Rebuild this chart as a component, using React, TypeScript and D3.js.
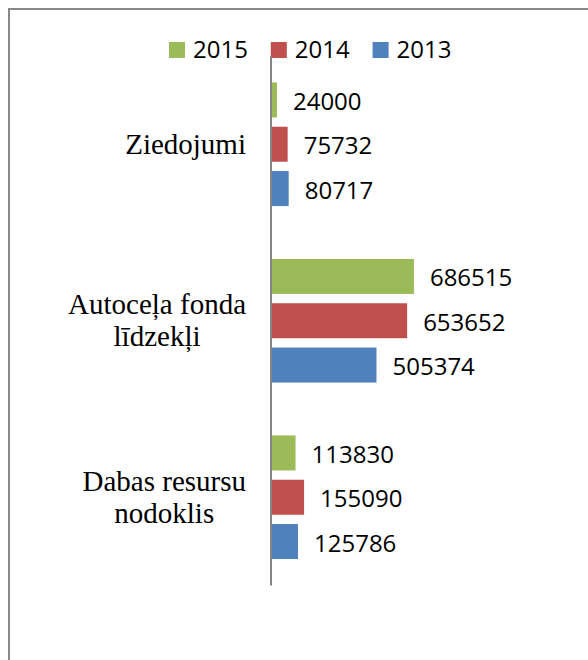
import React from "react";
import * as d3 from "d3";

const categories = ["Ziedojumi", "Autoceļa fonda\nlīdzekļi", "Dabas resursu\nnodoklis"];
const seriesNames = ["2015", "2014", "2013"];
const seriesColors = ["#9BBB59", "#C0504D", "#4F81BD"];
const values2015 = [24000, 686515, 113830];
const values2014 = [75732, 653652, 155090];
const values2013 = [80717, 505374, 125786];
const seriesValues = [values2015, values2014, values2013];

const W = 588;
const H = 660;
const numFont = "'Open Sans', sans-serif";
const numSize = 24;
const catFont = "'Liberation Serif', serif";
const catSize = 29;

function measure(text: string, font: string): number {
  const c = document.createElement("canvas");
  const ctx = c.getContext("2d");
  if (!ctx) return text.length * 12;
  ctx.font = font;
  return ctx.measureText(text).width;
}

export default function App() {
  const x = d3.scaleLinear().domain([0, 800000]).range([272, 437.4]);
  const y = d3.scaleBand<string>().domain(categories).range([56, 585.5]).padding(0);
  const inner = d3
    .scaleBand<string>()
    .domain(seriesNames)
    .range([0, y.bandwidth()])
    .paddingInner(0.21)
    .paddingOuter(0.597);

  const labelRight = 246;
  const lineH = 32;

  return (
    <svg
      width={W}
      height={H}
      style={{ position: "absolute", left: 0, top: 0, background: "#fff" }}
    >
      {/* frame */}
      <line x1={8} x2={W} y1={9} y2={9} stroke="#888" strokeWidth={2} />
      <line x1={9} x2={9} y1={8} y2={H} stroke="#888" strokeWidth={2} />

      {/* legend */}
      {seriesNames.map((s, i) => {
        const lx = 169 + i * 101.8;
        return (
          <g key={s}>
            <rect x={lx} y={42} width={16} height={16} fill={seriesColors[i]} />
            <text
              x={lx + 24}
              y={58}
              fontFamily={numFont}
              fontSize={numSize}
              fill="#000"
            >
              {s}
            </text>
          </g>
        );
      })}

      {/* bars */}
      {categories.map((c, ci) => (
        <g key={c}>
          {seriesNames.map((s, si) => {
            const v = seriesValues[si][ci];
            const by = (y(c) as number) + (inner(s) as number);
            const bh = inner.bandwidth();
            return (
              <g key={s}>
                <rect
                  x={x(0)}
                  y={by}
                  width={x(v) - x(0)}
                  height={bh}
                  fill={seriesColors[si]}
                />
                <text
                  x={x(v) + 16}
                  y={by + bh / 2 + 10}
                  fontFamily={numFont}
                  fontSize={numSize}
                  fill="#000"
                >
                  {v}
                </text>
              </g>
            );
          })}
        </g>
      ))}

      {/* axis line */}
      <line
        x1={271}
        x2={271}
        y1={y.range()[0]}
        y2={y.range()[1]}
        stroke="#868686"
        strokeWidth={2}
      />

      {/* category labels */}
      {categories.map((c) => {
        const lines = c.split("\n");
        const font = `${catSize}px 'Liberation Serif'`;
        const maxW = Math.max(...lines.map((l) => measure(l, font)));
        const cx = labelRight - maxW / 2;
        const cy = (y(c) as number) + y.bandwidth() / 2;
        const first = cy - ((lines.length - 1) * lineH) / 2 + 9.5;
        return (
          <text
            key={c}
            textAnchor="middle"
            fontFamily={catFont}
            fontSize={catSize}
            fill="#000"
          >
            {lines.map((l, li) => (
              <tspan key={li} x={cx} y={first + li * lineH}>
                {l}
              </tspan>
            ))}
          </text>
        );
      })}
    </svg>
  );
}
